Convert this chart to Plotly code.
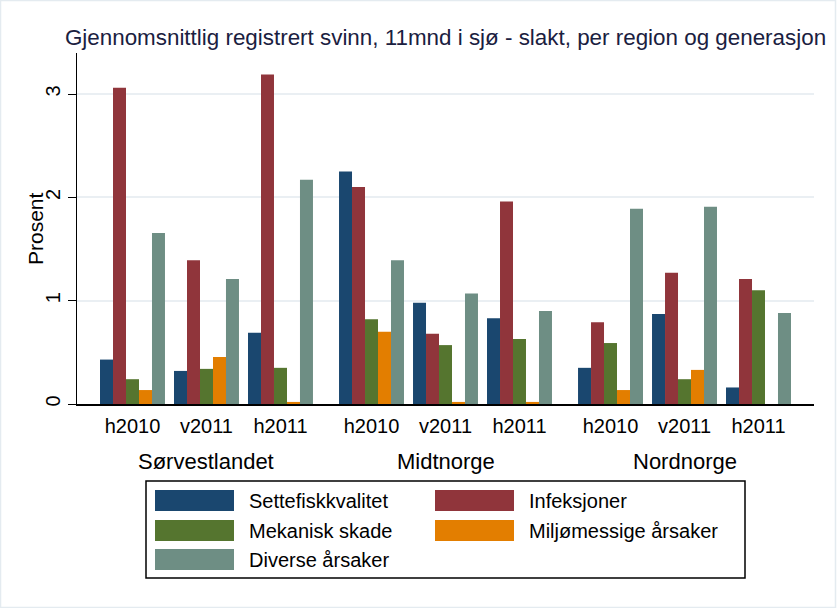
import plotly.graph_objects as go

# ---- data ----
regions = ["Sørvestlandet", "Midtnorge", "Nordnorge"]
generations = ["h2010", "v2011", "h2011"]
series_names = ["Settefiskkvalitet", "Infeksjoner", "Mekanisk skade",
                "Miljømessige årsaker", "Diverse årsaker"]
# values ordered: Sørvestlandet (h2010, v2011, h2011), Midtnorge (...), Nordnorge (...)
settefisk = [0.43, 0.32, 0.69, 2.25, 0.98, 0.83, 0.35, 0.87, 0.16]
infeksjoner = [3.06, 1.39, 3.19, 2.10, 0.68, 1.96, 0.79, 1.27, 1.21]
mekanisk = [0.24, 0.34, 0.35, 0.82, 0.57, 0.63, 0.59, 0.24, 1.10]
miljo = [0.135, 0.455, 0.02, 0.70, 0.02, 0.02, 0.135, 0.33, 0.0]
diverse = [1.655, 1.21, 2.17, 1.39, 1.07, 0.90, 1.89, 1.91, 0.88]
y_ticks = [0, 1, 2, 3]
y_title = "Prosent"

series_values = [settefisk, infeksjoner, mekanisk, miljo, diverse]
colors = ["#1a476f", "#90353b", "#55752f", "#e37e00", "#6e8e84"]

# ---- layout geometry (pixels) ----
W, H = 837, 608
PL, PR, PT, PB = 77, 814, 53, 404
REGION_STEP = len(generations) + 0.23

def px_x(x):
    return (x - PL) / (PR - PL)

def px_y(y):
    return (PB - y) / (PB - PT)

xpos = []
xlab = []
for ri, r in enumerate(regions):
    for gi, g in enumerate(generations):
        xpos.append(ri * REGION_STEP + gi)
        xlab.append(g)

FONT = "Liberation Sans, Arial, sans-serif"

fig = go.Figure()
for name, vals, col in zip(series_names, series_values, colors):
    fig.add_trace(go.Bar(x=xpos, y=vals, name=name, marker_color=col,
                         marker_line_width=0, showlegend=False))

annotations = []
for ri, r in enumerate(regions):
    annotations.append(dict(x=ri * REGION_STEP + 1, y=px_y(461), xref="x", yref="paper",
                            text=r, showarrow=False, xanchor="center", yanchor="middle",
                            font=dict(size=22, color="black", family=FONT)))
# y-axis title
annotations.append(dict(x=px_x(36), y=px_y(229), xref="paper", yref="paper",
                        text=y_title, textangle=-90, showarrow=False,
                        xanchor="center", yanchor="middle",
                        font=dict(size=21, color="black", family=FONT)))

shapes = []
# outer faint frame
shapes.append(dict(type="rect", xref="paper", yref="paper",
                   x0=px_x(0.5), x1=px_x(W - 1.5), y0=px_y(H - 0.5), y1=px_y(0.5),
                   line=dict(color="#e4ebf0", width=1.5), fillcolor="rgba(0,0,0,0)"))
# legend box
shapes.append(dict(type="rect", xref="paper", yref="paper",
                   x0=px_x(146), x1=px_x(745), y0=px_y(578), y1=px_y(481),
                   line=dict(color="black", width=1.5), fillcolor="white"))
sw_cols = [(155, 234, 247), (435, 514, 527)]
sw_rows = [(490, 511), (520, 541), (549, 570)]
for i, (name, col) in enumerate(zip(series_names, colors)):
    row, c = divmod(i, 2)
    x0, x1, tx = sw_cols[c]
    y0, y1 = sw_rows[row]
    shapes.append(dict(type="rect", xref="paper", yref="paper",
                       x0=px_x(x0), x1=px_x(x1), y0=px_y(y1), y1=px_y(y0),
                       line=dict(width=0), fillcolor=col))
    annotations.append(dict(x=px_x(tx), y=px_y((y0 + y1) / 2), xref="paper", yref="paper",
                            text=name, showarrow=False, xanchor="left", yanchor="middle",
                            font=dict(size=20, color="black", family=FONT)))

fig.update_layout(
    width=W, height=H,
    margin=dict(l=PL, r=W - PR, t=PT, b=H - PB, pad=0),
    paper_bgcolor="white", plot_bgcolor="white",
    barmode="group", bargap=0.122, bargroupgap=0,
    title=dict(text="Gjennomsnittlig registrert svinn, 11mnd i sjø - slakt, per region og generasjon",
               x=0.5, xref="paper", xanchor="center",
               y=1 - 37 / H, yref="container", yanchor="middle",
               font=dict(size=22.4, color="#1a2040", family=FONT)),
    font=dict(family=FONT, color="black"),
    xaxis=dict(range=[-0.75, 2 * REGION_STEP + 2 + 0.75], tickvals=xpos, ticktext=xlab,
               showgrid=False, zeroline=False, showline=True, linecolor="black", linewidth=1.5,
               ticks="", tickfont=dict(size=20, color="black"), ticklabelstandoff=3),
    yaxis=dict(range=[0, (PB - PT) / 103.33], tickvals=y_ticks, ticktext=[str(t) for t in y_ticks],
               showgrid=True, gridcolor="#eaeff3", gridwidth=2, zeroline=False,
               showline=True, linecolor="black", linewidth=1,
               ticks="outside", ticklen=8, tickcolor="black", tickwidth=1,
               tickangle=-90, tickfont=dict(size=20, color="black"), ticklabelstandoff=0),
    annotations=annotations, shapes=shapes,
)

fig.write_html("out.html")
